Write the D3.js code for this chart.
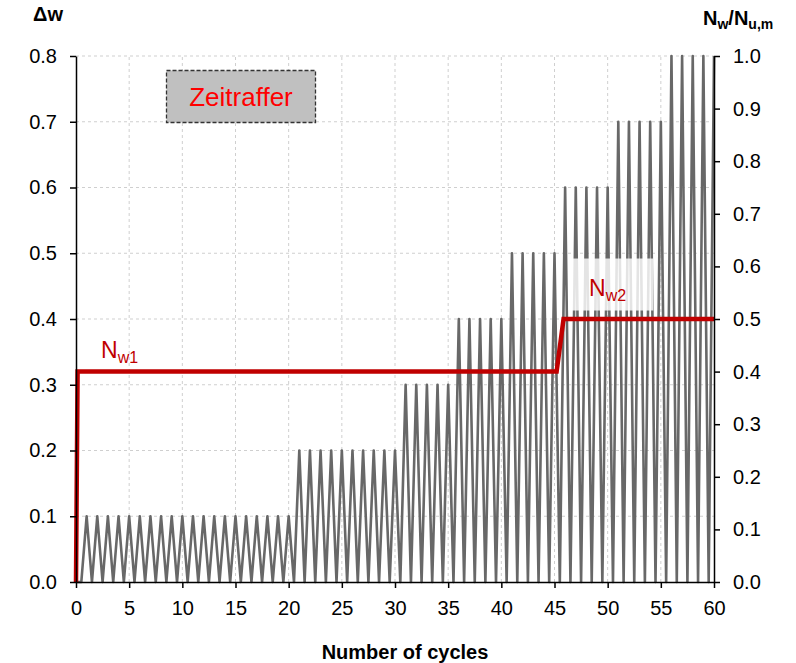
<!DOCTYPE html>
<html>
<head>
<meta charset="utf-8">
<script src="https://cdn.jsdelivr.net/npm/d3@7"></script>
<style>
  body { margin: 0; background: #fff; }
  svg { font-family: "Liberation Sans", Arial, sans-serif; }
  .grid line { stroke: #cfcfcf; stroke-width: 1; stroke-dasharray: 3,3; }
  .axis path, .axis line { stroke: #000; stroke-width: 1.5; }
  .axis text { font-size: 20px; fill: #000; }
  .title { font-weight: bold; font-size: 20px; fill: #000; }
</style>
</head>
<body>
<svg width="796" height="663"></svg>
<script>
// peak crack width of every load cycle (troughs go back to 0 between cycles)
const cycleAmplitude = [
    0.1, 0.1, 0.1, 0.1, 0.1, 0.1, 0.1, 0.1, 0.1, 0.1,
    0.1, 0.1, 0.1, 0.1, 0.1, 0.1, 0.1, 0.1, 0.1, 0.1,
    0.2, 0.2, 0.2, 0.2, 0.2, 0.2, 0.2, 0.2, 0.2, 0.2,
    0.3, 0.3, 0.3, 0.3, 0.3,
    0.4, 0.4, 0.4, 0.4, 0.4,
    0.5, 0.5, 0.5, 0.5, 0.5,
    0.6, 0.6, 0.6, 0.6, 0.6,
    0.7, 0.7, 0.7, 0.7, 0.7,
    0.8, 0.8, 0.8, 0.8, 0.8
];

// N_w / N_u,m step line (right axis)
const nwCycles = [0, 0.15, 45.2, 45.85, 60];
const nwRatio = [0, 0.4, 0.4, 0.5, 0.5];

const xTicks = [0, 5, 10, 15, 20, 25, 30, 35, 40, 45, 50, 55, 60];
const leftTicks = [0, 0.1, 0.2, 0.3, 0.4, 0.5, 0.6, 0.7, 0.8];
const rightTicks = [0, 0.1, 0.2, 0.3, 0.4, 0.5, 0.6, 0.7, 0.8, 0.9, 1.0];

const svg = d3.select("svg");
const width = +svg.attr("width");
const height = +svg.attr("height");
const margin = { top: 56, right: 82, bottom: 81, left: 76 };

const x = d3.scaleLinear().domain([0, 60]).range([margin.left, width - margin.right]);
const yLeft = d3.scaleLinear().domain([0, 0.8]).range([height - margin.bottom, margin.top]);
const yRight = d3.scaleLinear().domain([0, 1.0]).range([height - margin.bottom, margin.top]);

// grid
const grid = svg.append("g").attr("class", "grid");
grid.selectAll(".gx")
    .data(xTicks.filter(d => d > 0 && d < 60))
    .enter().append("line")
    .attr("x1", d => x(d)).attr("x2", d => x(d))
    .attr("y1", yLeft(0)).attr("y2", yLeft(0.8));
grid.selectAll(".gy")
    .data(leftTicks.filter(d => d > 0))
    .enter().append("line")
    .attr("x1", x(0)).attr("x2", x(60))
    .attr("y1", d => yLeft(d)).attr("y2", d => yLeft(d));

// zigzag of the cyclic crack width
const zigzag = [[0, 0]];
cycleAmplitude.forEach((a, i) => {
    zigzag.push([i + 0.5, 0]);
    zigzag.push([i + 1, a]);
});

svg.append("path")
    .datum(zigzag)
    .attr("fill", "none")
    .attr("stroke", "#686868")
    .attr("stroke-width", 2.6)
    .attr("stroke-linejoin", "round")
    .attr("d", d3.line().x(d => x(d[0])).y(d => yLeft(d[1])));

// white label box for N_w2 (drawn over the zigzag)
svg.append("rect")
    .attr("x", x(46.3)).attr("y", yRight(0.615))
    .attr("width", 85).attr("height", 52)
    .attr("fill", "#fff").attr("opacity", 0.82);

// step line
svg.append("path")
    .datum(nwCycles.map((c, i) => [c, nwRatio[i]]))
    .attr("fill", "none")
    .attr("stroke", "#c00000")
    .attr("stroke-width", 4.5)
    .attr("d", d3.line().x(d => x(d[0])).y(d => yRight(d[1])));

// axes
const fmt = d3.format(".1f");
svg.append("g").attr("class", "axis")
    .attr("transform", `translate(${margin.left},0)`)
    .call(d3.axisLeft(yLeft).tickValues(leftTicks).tickFormat(fmt)
        .tickSize(6).tickSizeOuter(0).tickPadding(13));
svg.append("g").attr("class", "axis")
    .attr("transform", `translate(${width - margin.right},0)`)
    .call(d3.axisRight(yRight).tickValues(rightTicks).tickFormat(fmt)
        .tickSize(6).tickSizeOuter(0).tickPadding(13));
svg.append("g").attr("class", "axis")
    .attr("transform", `translate(0,${height - margin.bottom})`)
    .call(d3.axisBottom(x).tickValues(xTicks).tickFormat(d3.format("d"))
        .tickSize(6).tickSizeOuter(0).tickPadding(13));

// axis titles
svg.append("text").attr("class", "title")
    .attr("x", 33).attr("y", 21).text("\u0394w");

const rt = svg.append("text").attr("class", "title")
    .attr("x", 703).attr("y", 25)
    .attr("font-size", 21);
rt.append("tspan").text("N");
rt.append("tspan").attr("font-size", 14).attr("dy", 4).text("w");
rt.append("tspan").attr("dy", -4).text("/N");
rt.append("tspan").attr("font-size", 14).attr("dy", 4).text("u,m");

svg.append("text").attr("class", "title")
    .attr("x", 405).attr("y", 659)
    .attr("text-anchor", "middle")
    .text("Number of cycles");

// "Zeitraffer" box
svg.append("rect")
    .attr("x", 166.5).attr("y", 70.5)
    .attr("width", 149).attr("height", 52)
    .attr("fill", "#c0c0c0")
    .attr("stroke", "#333").attr("stroke-width", 1.3)
    .attr("stroke-dasharray", "4,2");
svg.append("text")
    .attr("x", 241).attr("y", 106)
    .attr("text-anchor", "middle")
    .attr("font-size", 26)
    .attr("fill", "#ff0000")
    .text("Zeitraffer");

// N_w labels
function nwLabel(px, py, sub) {
    const t = svg.append("text")
        .attr("x", px).attr("y", py)
        .attr("font-size", 23)
        .attr("fill", "#c00000");
    t.append("tspan").text("N");
    t.append("tspan").attr("font-size", 16).attr("dy", 5).text(sub);
}
nwLabel(101, 358, "w1");
nwLabel(589, 296, "w2");
</script>
</body>
</html>
